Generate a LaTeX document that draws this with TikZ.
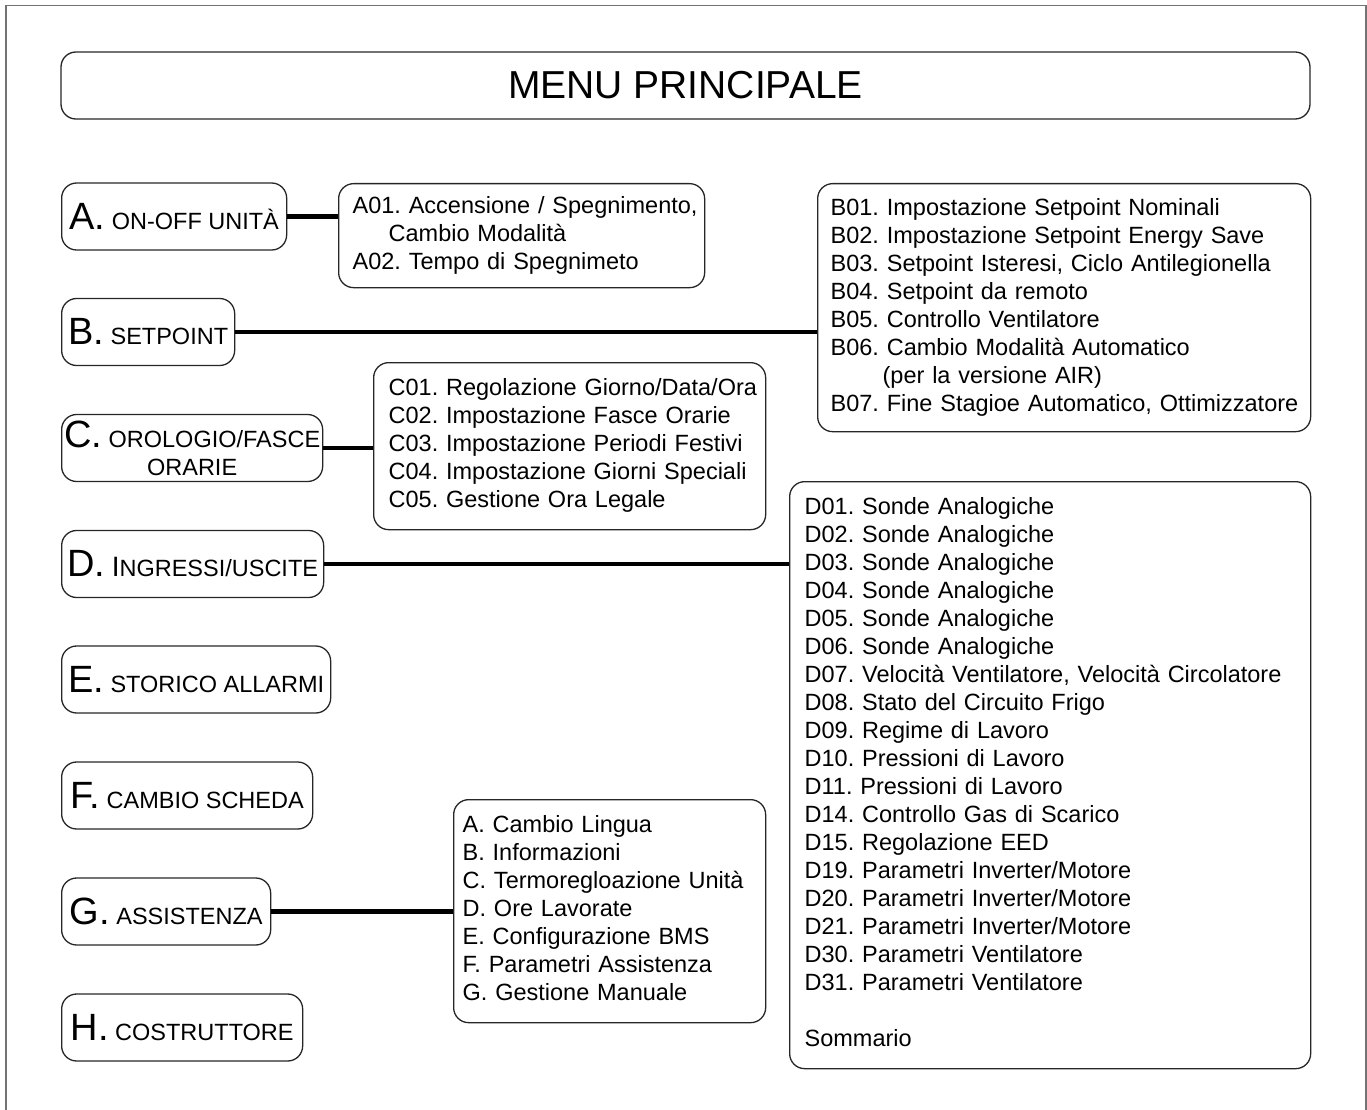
\documentclass[tikz,border=0pt]{standalone}
\usepackage{fontspec}
\setmainfont{Liberation Sans}
\usetikzlibrary{positioning}
\definecolor{BoxLine}{rgb}{0.15, 0.15, 0.15}
\definecolor{Frame70}{rgb}{0.45, 0.45, 0.45}
\newcommand{\keyltr}[1]{{\fontsize{38}{38}\selectfont #1}}
\frenchspacing

\begin{document}
\begin{tikzpicture}[x=1pt, y=-1pt,
  font=\fontsize{23.5}{28}\selectfont,
  mainbox/.style={draw=BoxLine, line width=1.3pt, rounded corners=15pt,
    minimum height=67pt, anchor=west, inner sep=0pt, align=center},
  subbox/.style={draw=BoxLine, line width=1.3pt, rounded corners=15pt,
    anchor=north west, inner ysep=0pt, align=left},
  link/.style={line width=4.8pt}]

  \useasboundingbox (0,0) rectangle (1367,1110);

  % -------------------------------------------------------
  % Outer frame and title
  % -------------------------------------------------------
  \draw[Frame70, line width=1.2pt] (6,1130) -- (6,5.5) -- (1366,5.5) -- (1366,1130);

  \node[draw=BoxLine, line width=1.3pt, rounded corners=15pt,
    minimum width=1249pt, minimum height=67pt, font=\fontsize{39}{39}\selectfont]
    (title) at (685.5,85.5) {MENU PRINCIPALE};

  % -------------------------------------------------------
  % Main menu entries (left column)
  % -------------------------------------------------------
  \node[mainbox, minimum width=225pt] (amenu) at (61,216.5) {\keyltr{A.} ON-OFF UNITÀ};
  \node[mainbox, minimum width=173pt] (bmenu) at (61,332)   {\keyltr{B.} SETPOINT};
  \node[mainbox, minimum width=261pt] (cmenu) at (61,448)   {\keyltr{C.} OROLOGIO/FASCE\\ORARIE};
  \node[mainbox, minimum width=262pt] (dmenu) at (61,564)
    {\keyltr{D.} {\fontsize{28}{28}\selectfont I}NGRESSI/USCITE};
  \node[mainbox, minimum width=269pt] (emenu) at (61,679.5) {\keyltr{E.} STORICO ALLARMI};
  \node[mainbox, minimum width=251pt] (fmenu) at (61,795.5) {\keyltr{F.} CAMBIO SCHEDA};
  \node[mainbox, minimum width=209pt] (gmenu) at (61,911.5) {\keyltr{G.} ASSISTENZA};
  \node[mainbox, minimum width=241pt] (hmenu) at (61,1027.5) {\keyltr{H.} COSTRUTTORE};

  % -------------------------------------------------------
  % Sub menus
  % -------------------------------------------------------
  % A: on-off
  \node[subbox, inner xsep=14pt, text width=338pt, minimum width=366pt,
    minimum height=104pt] (asub) at (338,183) {\begin{tabular}{@{}l@{}}
    A01. Accensione / Spegnimento,\\
    \hspace*{36pt}Cambio Modalità\\
    A02. Tempo di Spegnimeto
  \end{tabular}};

  % B: setpoint
  \node[subbox, inner xsep=13pt, text width=467pt, minimum width=493pt,
    minimum height=248pt] (bsub) at (817,183) {\begin{tabular}{@{}l@{}}
    B01. Impostazione Setpoint Nominali\\
    B02. Impostazione Setpoint Energy Save\\
    B03. Setpoint Isteresi, Ciclo Antilegionella\\
    B04. Setpoint da remoto\\
    B05. Controllo Ventilatore\\
    B06. Cambio Modalità Automatico\\
    \hspace*{52pt}(per la versione AIR)\\
    B07. Fine Stagioe Automatico, Ottimizzatore
  \end{tabular}};

  % C: clock / time bands
  \node[subbox, inner xsep=15pt, text width=362pt, minimum width=392pt,
    minimum height=167pt] (csub) at (373,362) {\begin{tabular}{@{}l@{}}
    C01. Regolazione Giorno/Data/Ora\\
    C02. Impostazione Fasce Orarie\\
    C03. Impostazione Periodi Festivi\\
    C04. Impostazione Giorni Speciali\\
    C05. Gestione Ora Legale
  \end{tabular}};

  % D: inputs / outputs
  \node[subbox, inner xsep=15pt, text width=491pt, minimum width=521pt,
    minimum height=587pt] (dsub) at (789,481) {\begin{tabular}{@{}l@{}}
    D01. Sonde Analogiche\\
    D02. Sonde Analogiche\\
    D03. Sonde Analogiche\\
    D04. Sonde Analogiche\\
    D05. Sonde Analogiche\\
    D06. Sonde Analogiche\\
    D07. Velocità Ventilatore, Velocità Circolatore\\
    D08. Stato del Circuito Frigo\\
    D09. Regime di Lavoro\\
    D10. Pressioni di Lavoro\\
    D11. Pressioni di Lavoro\\
    D14. Controllo Gas di Scarico\\
    D15. Regolazione EED\\
    D19. Parametri Inverter/Motore\\
    D20. Parametri Inverter/Motore\\
    D21. Parametri Inverter/Motore\\
    D30. Parametri Ventilatore\\
    D31. Parametri Ventilatore\\
    \\
    Sommario
  \end{tabular}};

  % G: service
  \node[subbox, inner xsep=9pt, text width=294pt, minimum width=312pt,
    minimum height=223pt] (gsub) at (453,799) {\begin{tabular}{@{}l@{}}
    A. Cambio Lingua\\
    B. Informazioni\\
    C. Termoregloazione Unità\\
    D. Ore Lavorate\\
    E. Configurazione BMS\\
    F. Parametri Assistenza\\
    G. Gestione Manuale
  \end{tabular}};

  % -------------------------------------------------------
  % Connectors
  % -------------------------------------------------------
  \draw[link] (amenu.east) -- (amenu.east -| asub.west);
  \draw[link] (bmenu.east) -- (bmenu.east -| bsub.west);
  \draw[link] (cmenu.east) -- (cmenu.east -| csub.west);
  \draw[link] (dmenu.east) -- (dmenu.east -| dsub.west);
  \draw[link] (gmenu.east) -- (gmenu.east -| gsub.west);

\end{tikzpicture}
\end{document}
